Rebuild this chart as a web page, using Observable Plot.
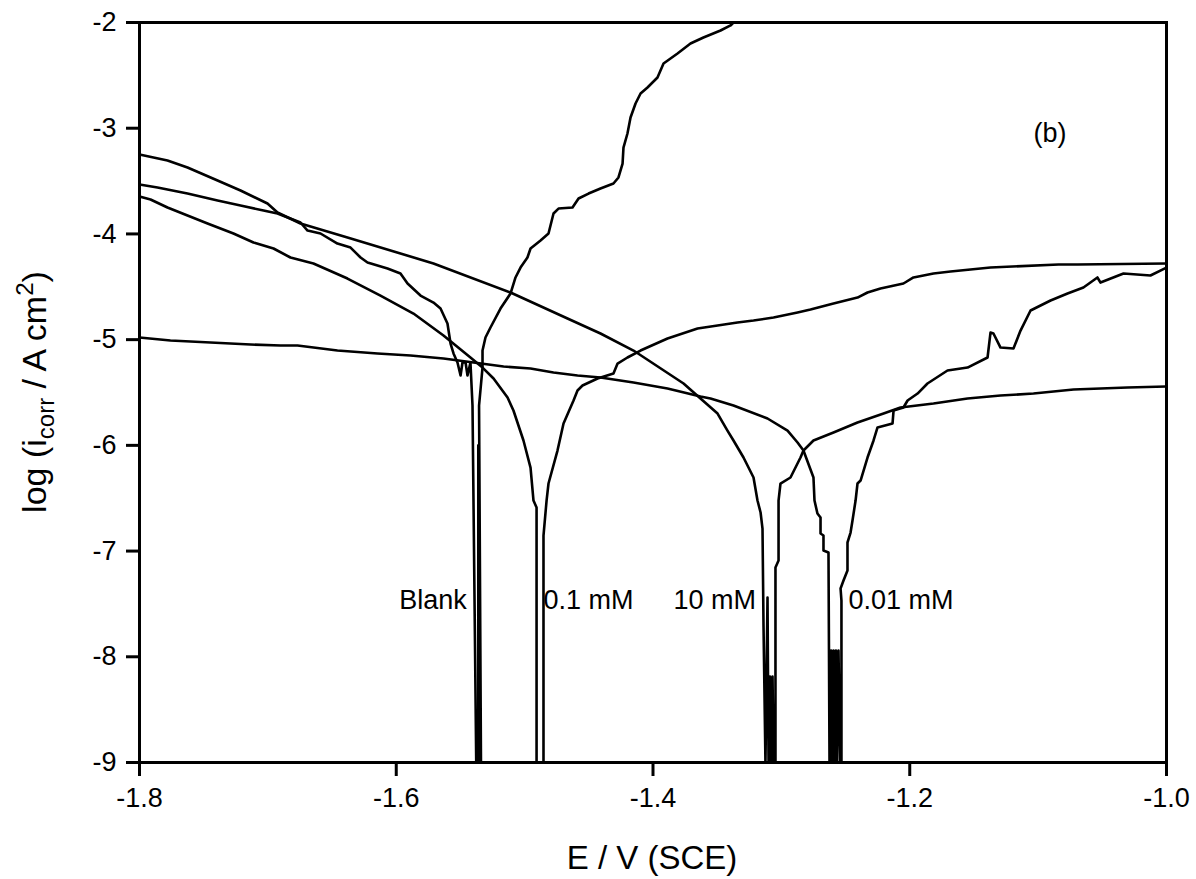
<!DOCTYPE html>
<html>
<head>
<meta charset="utf-8">
<script src="https://cdn.jsdelivr.net/npm/d3@7"></script>
<script src="https://cdn.jsdelivr.net/npm/@observablehq/plot@0.6"></script>
<style>
  html, body { margin: 0; padding: 0; background: #ffffff; }
  #chart { width: 1196px; height: 879px; }
</style>
</head>
<body>
<div id="chart"></div>
<script>
// Tick values
const xTicks = [-1.8, -1.6, -1.4, -1.2, -1.0];
const yTicks = [-2, -3, -4, -5, -6, -7, -8, -9];

// Curve data: [E / V (SCE), log(i / A cm^-2)]
const blank = [
  [-1.8000,-3.533],[-1.7860,-3.561],[-1.7626,-3.618],[-1.7392,-3.684],[-1.7213,-3.731],
  [-1.7034,-3.779],[-1.6925,-3.807],[-1.6746,-3.892],[-1.6691,-3.968],[-1.6590,-3.996],
  [-1.6458,-4.091],[-1.6356,-4.129],[-1.6278,-4.223],[-1.6224,-4.270],[-1.6068,-4.327],
  [-1.5967,-4.374],[-1.5912,-4.469],[-1.5811,-4.583],[-1.5710,-4.649],[-1.5655,-4.706],
  [-1.5601,-4.847],[-1.5577,-5.037],[-1.5554,-5.131],[-1.5523,-5.216],[-1.5499,-5.339],
  [-1.5484,-5.216],[-1.5460,-5.216],[-1.5445,-5.339],[-1.5422,-5.216],[-1.5406,-5.623],
  [-1.5377,-9.000],[-1.5361,-9.000],[-1.5361,-6.000],[-1.5355,-6.000],[-1.5345,-9.000],
  [-1.5340,-9.000],[-1.5355,-5.623],[-1.5328,-5.264],[-1.5328,-5.103],
  [-1.5305,-4.980],[-1.5266,-4.885],[-1.5188,-4.706],[-1.5110,-4.564],[-1.5071,-4.412],
  [-1.5032,-4.318],[-1.4978,-4.223],[-1.4954,-4.138],[-1.4876,-4.062],[-1.4814,-3.996],
  [-1.4775,-3.807],[-1.4736,-3.760],[-1.4627,-3.750],[-1.4580,-3.665],[-1.4502,-3.618],
  [-1.4409,-3.570],[-1.4308,-3.523],[-1.4269,-3.466],[-1.4237,-3.334],[-1.4230,-3.183],
  [-1.4199,-3.050],[-1.4175,-2.899],[-1.4136,-2.766],[-1.4097,-2.672],[-1.4043,-2.615],
  [-1.3965,-2.520],[-1.3918,-2.388],[-1.3809,-2.293],[-1.3708,-2.199],[-1.3607,-2.142],
  [-1.3474,-2.076],[-1.3396,-2.028],[-1.3373,-2.000]
];

const mM0_1 = [
  [-1.8000,-3.646],[-1.7914,-3.674],[-1.7782,-3.750],[-1.7626,-3.826],[-1.7470,-3.901],
  [-1.7268,-3.996],[-1.7112,-4.081],[-1.6956,-4.138],[-1.6824,-4.223],[-1.6645,-4.280],
  [-1.6380,-4.422],[-1.6123,-4.583],[-1.5866,-4.753],[-1.5632,-4.961],[-1.5422,-5.169],
  [-1.5328,-5.264],[-1.5242,-5.368],[-1.5133,-5.548],[-1.5087,-5.670],[-1.5009,-5.954],
  [-1.4954,-6.210],[-1.4931,-6.522],[-1.4907,-6.588],[-1.4907,-9.000],[-1.4853,-9.000],
  [-1.4853,-6.853],[-1.4829,-6.522],[-1.4814,-6.361],[-1.4744,-6.049],[-1.4697,-5.793],
  [-1.4619,-5.576],[-1.4588,-5.481],[-1.4549,-5.434],[-1.4432,-5.368],[-1.4308,-5.320],
  [-1.4276,-5.226],[-1.4199,-5.169],[-1.4097,-5.103],[-1.3887,-4.989],[-1.3653,-4.895],
  [-1.3497,-4.866],[-1.3342,-4.838],[-1.3217,-4.819],[-1.3061,-4.791],[-1.2874,-4.743],
  [-1.2773,-4.715],[-1.2594,-4.658],[-1.2407,-4.602],[-1.2329,-4.554],[-1.2228,-4.516],
  [-1.2049,-4.469],[-1.1971,-4.412],[-1.1815,-4.374],[-1.1682,-4.356],[-1.1371,-4.318],
  [-1.0841,-4.289],[-1.0693,-4.289],[-1.0000,-4.280]
];

const mM10 = [
  [-1.8000,-3.249],[-1.7891,-3.277],[-1.7782,-3.306],[-1.7626,-3.372],[-1.7392,-3.495],
  [-1.7213,-3.589],[-1.7003,-3.712],[-1.6925,-3.797],[-1.6746,-3.901],[-1.6380,-4.034],
  [-1.5967,-4.185],[-1.5710,-4.280],[-1.5110,-4.554],[-1.4666,-4.800],[-1.4409,-4.942],
  [-1.4152,-5.103],[-1.3762,-5.415],[-1.3630,-5.557],[-1.3497,-5.699],[-1.3420,-5.860],
  [-1.3373,-5.954],[-1.3295,-6.115],[-1.3217,-6.304],[-1.3186,-6.522],[-1.3162,-6.635],
  [-1.3147,-6.787],[-1.3139,-7.714],[-1.3124,-9.000],[-1.3108,-7.440],[-1.3100,-9.000],
  [-1.3089,-8.187],[-1.3081,-9.000],[-1.3069,-8.187],[-1.3061,-9.000],[-1.3046,-9.000],
  [-1.3046,-7.156],[-1.3022,-7.089],
  [-1.3022,-6.522],[-1.3007,-6.361],[-1.2929,-6.304],[-1.2851,-6.115],[-1.2828,-6.049],
  [-1.2750,-5.954],[-1.2594,-5.879],[-1.2407,-5.784],[-1.2204,-5.699],[-1.2072,-5.642],
  [-1.1815,-5.604],[-1.1550,-5.557],[-1.1293,-5.529],[-1.1036,-5.510],[-1.0724,-5.472],
  [-1.0304,-5.453],[-1.0000,-5.443]
];

const mM0_01 = [
  [-1.8000,-4.980],[-1.7759,-5.008],[-1.7447,-5.027],[-1.7135,-5.046],[-1.6902,-5.056],
  [-1.6769,-5.056],[-1.6458,-5.103],[-1.6146,-5.131],[-1.5889,-5.150],[-1.5632,-5.179],
  [-1.5398,-5.216],[-1.5164,-5.254],[-1.4954,-5.273],[-1.4775,-5.311],[-1.4588,-5.339],
  [-1.4409,-5.358],[-1.4152,-5.406],[-1.3887,-5.462],[-1.3630,-5.538],[-1.3552,-5.557],
  [-1.3373,-5.623],[-1.3108,-5.746],[-1.2952,-5.860],[-1.2874,-5.973],[-1.2828,-6.049],
  [-1.2750,-6.304],[-1.2742,-6.522],[-1.2719,-6.645],[-1.2695,-6.683],[-1.2695,-6.834],
  [-1.2672,-6.853],[-1.2672,-6.995],[-1.2633,-7.014],[-1.2625,-9.000],[-1.2613,-7.941],
  [-1.2606,-9.000],[-1.2594,-7.941],[-1.2586,-9.000],[-1.2575,-7.941],[-1.2567,-9.000],
  [-1.2555,-7.941],[-1.2543,-9.000],[-1.2532,-9.000],[-1.2532,-7.468],[-1.2539,-7.354],
  [-1.2516,-7.279],[-1.2485,-7.184],[-1.2485,-6.919],[-1.2461,-6.825],[-1.2446,-6.711],
  [-1.2422,-6.522],[-1.2407,-6.361],[-1.2383,-6.333],[-1.2329,-6.115],[-1.2282,-5.954],
  [-1.2251,-5.831],[-1.2134,-5.793],[-1.2126,-5.670],[-1.2049,-5.642],[-1.2017,-5.576],
  [-1.1939,-5.510],[-1.1862,-5.415],[-1.1706,-5.292],[-1.1550,-5.264],[-1.1394,-5.169],
  [-1.1371,-4.933],[-1.1348,-4.942],[-1.1293,-5.075],[-1.1192,-5.084],[-1.1137,-4.914],
  [-1.1059,-4.724],[-1.0903,-4.630],[-1.0771,-4.564],[-1.0647,-4.507],[-1.0538,-4.412],
  [-1.0514,-4.460],[-1.0335,-4.374],[-1.0125,-4.393],[-1.0000,-4.318]
];

// Annotations
const labelText   = ["Blank", "0.1 mM", "10 mM", "0.01 mM", "(b)"];
const labelE      = [-1.545, -1.4853, -1.384, -1.2477, -1.1036];
const labelLog    = [-7.47, -7.47, -7.47, -7.47, -3.05];
const labelAnchor = ["end", "start", "start", "start", "start"];

const curves = [blank, mM0_1, mM10, mM0_01];
const labels = labelText.map((t, i) => ({text: t, E: labelE[i], L: labelLog[i], anchor: labelAnchor[i]}));

const FONT = "'Liberation Sans', Arial, Helvetica, sans-serif";

const chart = Plot.plot({
  width: 1196,
  height: 879,
  marginLeft: 139,
  marginRight: 30,
  marginTop: 22,
  marginBottom: 117,
  style: {fontFamily: FONT, fontSize: "27px", background: "#ffffff", color: "#000"},
  x: {domain: [-1.8, -1.0]},
  y: {domain: [-9, -2]},
  marks: [
    ...curves.map(c => Plot.line(c, {x: d => d[0], y: d => d[1], stroke: "#000", strokeWidth: 2.6, clip: true})),
    Plot.text(labels.filter(d => d.anchor === "end"), {x: "E", y: "L", text: "text", textAnchor: "end", fontSize: 27, fill: "#000"}),
    Plot.text(labels.filter(d => d.anchor === "start"), {x: "E", y: "L", text: "text", textAnchor: "start", fontSize: 27, fill: "#000"}),
    Plot.frame({stroke: "#000", strokeWidth: 3}),
    Plot.axisX({ticks: xTicks, tickSize: 14, tickPadding: 11, tickFormat: d => d.toFixed(1), strokeWidth: 3, fontSize: 27, label: null}),
    Plot.axisY({ticks: yTicks, tickSize: 13, tickPadding: 10, tickFormat: d => String(d), strokeWidth: 3, fontSize: 27, label: null})
  ]
});

document.getElementById("chart").appendChild(chart);

// Axis titles with subscript / superscript
const svg = d3.select(chart);
svg.append("text")
  .attr("x", 652)
  .attr("y", 869)
  .attr("text-anchor", "middle")
  .attr("font-family", FONT)
  .attr("font-size", 33)
  .attr("fill", "#000")
  .text("E / V (SCE)");

const yt = svg.append("text")
  .attr("transform", "translate(46,392) rotate(-90)")
  .attr("text-anchor", "middle")
  .attr("font-family", FONT)
  .attr("font-size", 34)
  .attr("fill", "#000");
yt.append("tspan").text("log (i");
yt.append("tspan").attr("font-size", 24).attr("dy", 8).text("corr");
yt.append("tspan").attr("dy", -8).text(" / A cm");
yt.append("tspan").attr("font-size", 24).attr("dy", -13).text("2");
yt.append("tspan").attr("dy", 13).text(")");
</script>
</body>
</html>
